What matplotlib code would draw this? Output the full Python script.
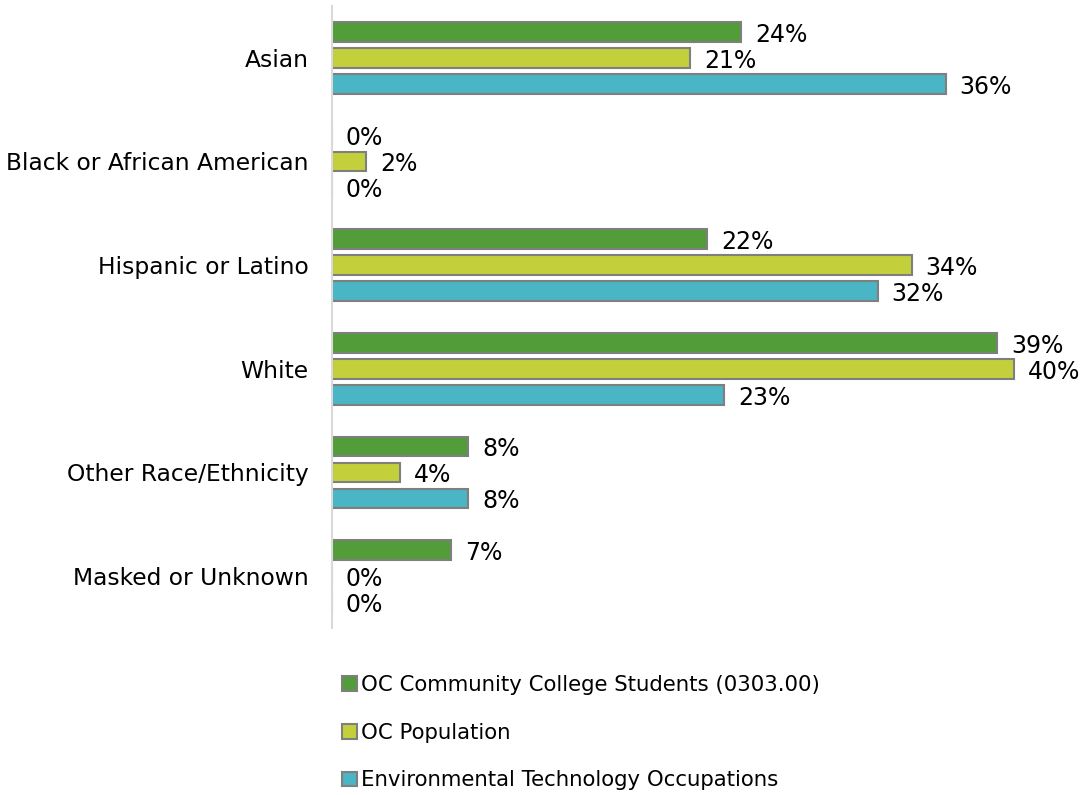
import numpy as np
import matplotlib.pyplot as plt
from matplotlib.patches import Patch

# data
categories = ["Asian", "Black or African American", "Hispanic or Latino",
              "White", "Other Race/Ethnicity", "Masked or Unknown"]
students = [24, 0, 22, 39, 8, 7]
population = [21, 2, 34, 40, 4, 0]
occupations = [36, 0, 32, 23, 8, 0]
series_names = ["OC Community College Students (0303.00)", "OC Population",
                "Environmental Technology Occupations"]

colors = ["#539C3A", "#C3CF3B", "#4AB5C4"]
edge = "#7F7F7F"

plt.rcParams['font.family'] = ['DejaVu Sans']

fig = plt.figure(figsize=(10.88, 7.95), dpi=100)
ax = fig.add_axes([332/1088, 1-628/795, (1060-332)/1088, (628-6)/795])

y = np.arange(len(categories))
offsets = [-0.25, 0.0, 0.25]
for vals, off, c in zip([students, population, occupations], offsets, colors):
    ax.barh(y + off, vals, height=0.19, color=c, edgecolor=edge, linewidth=1.5)
    for yi, v in zip(y, vals):
        ax.annotate("%d%%" % v, (v, yi + off), xytext=(10, -2),
                    textcoords="offset points", va="center", ha="left",
                    fontsize=17, color="black")

ax.set_xlim(0, (1060-332)/17.05)
ax.set_ylim(len(categories) - 0.5, -0.5)
ax.set_yticks(y)
ax.set_yticklabels(categories, fontsize=16.8)
ax.tick_params(axis="y", length=0, pad=17)
ax.set_xticks([])
for s in ["top", "right", "bottom"]:
    ax.spines[s].set_visible(False)
ax.spines["left"].set_color("#D9D9D9")
ax.spines["left"].set_linewidth(1.5)

handles = [Patch(facecolor=c, edgecolor=edge, linewidth=1.5) for c in colors]
fig.legend(handles, series_names, loc="upper left",
           bbox_to_anchor=(323/1088, 1-656/795), frameon=False,
           fontsize=15.3, handlelength=0.7, handleheight=0.7,
           handletextpad=0.2, labelspacing=1.3)

fig.savefig("out.png", dpi=100)
